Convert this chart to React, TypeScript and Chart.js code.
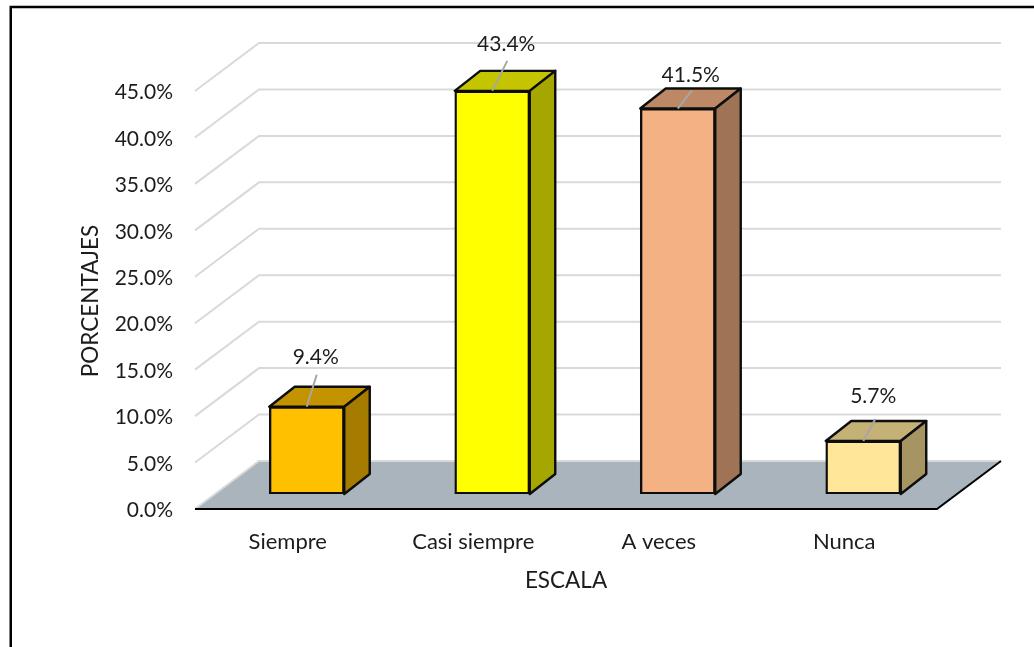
import { useEffect, useRef } from "react";
import { Chart, registerables } from "chart.js";

Chart.register(...registerables);

const categories = ["Siempre", "Casi siempre", "A veces", "Nunca"];
const percentages = [9.4, 43.4, 41.5, 5.7];
const frontColors = ["#FFC000", "#FFFF00", "#F4B183", "#FFE699"];
const topColors = ["#C49300", "#C4C400", "#BC8866", "#C4B176"];
const sideColors = ["#A67C00", "#A6A600", "#9F7355", "#A69563"];
const xAxisTitle = "ESCALA";
const yAxisTitle = "PORCENTAJES";

// Leader line end and label centre, relative to the middle of each bar's top edge.
const leaderEnds = [[10, -32], [15, -30], [14, -18], [12, -22]];
const labelOffsets = [[9, -49], [14, -47], [13, -33], [10, -45]];

const FONT = "Lato, Carlito, sans-serif";
const NUMBER_SIZE = 21;
const CATEGORY_SIZE = 22;
const TITLE_SIZE = 22.5;
const TEXT = "#1c1c1c";

// The bars stand on a plane between the front edge of the floor and the back wall.
const FRONT = { dx: -19, dy: 15 };
const BACK = { dx: 45, dy: -33 };
const BAR_DEPTH = { dx: 25.5, dy: -20 };

function poly(ctx: CanvasRenderingContext2D, pts: number[][], fill?: string, stroke?: string, width = 2.4) {
  ctx.beginPath();
  pts.forEach(([x, y], i) => (i ? ctx.lineTo(x, y) : ctx.moveTo(x, y)));
  ctx.closePath();
  if (fill) {
    ctx.fillStyle = fill;
    ctx.fill();
  }
  if (stroke) {
    ctx.strokeStyle = stroke;
    ctx.lineWidth = width;
    ctx.lineJoin = "round";
    ctx.stroke();
  }
}

function line(ctx: CanvasRenderingContext2D, pts: number[][], stroke: string, width: number) {
  ctx.beginPath();
  pts.forEach(([x, y], i) => (i ? ctx.lineTo(x, y) : ctx.moveTo(x, y)));
  ctx.strokeStyle = stroke;
  ctx.lineWidth = width;
  ctx.stroke();
}

const perspectivePlugin = {
  id: "perspective",
  beforeDraw(chart: any) {
    const { ctx, width, height } = chart;
    ctx.save();
    ctx.fillStyle = "#ffffff";
    ctx.fillRect(0, 0, width, height);
    // Chart frame, cut by the right and bottom edges of the page.
    line(ctx, [[10.75, height], [10.75, 7], [width, 7]], "#000000", 2.5);
    ctx.restore();
  },
  beforeDatasetsDraw(chart: any) {
    const { ctx, chartArea } = chart;
    const yScale = chart.scales.y;
    const { left, right } = chartArea;
    const y0 = yScale.getPixelForValue(0);
    ctx.save();

    // Floor of the plot.
    poly(ctx, [
      [left + FRONT.dx, y0 + FRONT.dy],
      [right + FRONT.dx, y0 + FRONT.dy],
      [right + BACK.dx, y0 + BACK.dy],
      [left + BACK.dx, y0 + BACK.dy],
    ], "#A9B4BC");

    // Gridlines: up the side wall, then along the back wall.
    yScale.ticks.forEach((t: any) => {
      const y = yScale.getPixelForValue(t.value);
      line(ctx, [
        [left + FRONT.dx, y + FRONT.dy],
        [left + BACK.dx, y + BACK.dy],
        [right + BACK.dx, y + BACK.dy],
      ], "#D9D9D9", 2);
    });

    // Dark front and right edges of the floor.
    line(ctx, [
      [left + FRONT.dx, y0 + FRONT.dy],
      [right + FRONT.dx, y0 + FRONT.dy],
      [right + BACK.dx, y0 + BACK.dy],
    ], "#000000", 2);

    // Top and side faces of each bar, drawn behind its front face.
    chart.getDatasetMeta(0).data.forEach((bar: any, i: number) => {
      const l = bar.x - bar.width / 2;
      const r = bar.x + bar.width / 2;
      const d = BAR_DEPTH;
      poly(ctx, [[l, bar.y], [r, bar.y], [r + d.dx, bar.y + d.dy], [l + d.dx, bar.y + d.dy]], topColors[i], "#0d0d0d");
      poly(ctx, [[r, bar.y], [r + d.dx, bar.y + d.dy], [r + d.dx, bar.base + d.dy], [r, bar.base]], sideColors[i], "#0d0d0d");
    });
    ctx.restore();
  },
  afterDatasetsDraw(chart: any) {
    const { ctx, chartArea } = chart;
    ctx.save();
    ctx.textAlign = "center";
    ctx.textBaseline = "middle";
    ctx.font = `${NUMBER_SIZE}px ${FONT}`;
    chart.getDatasetMeta(0).data.forEach((bar: any, i: number) => {
      const [ex, ey] = leaderEnds[i];
      line(ctx, [[bar.x, bar.y], [bar.x + ex, bar.y + ey]], "#A6A6A6", 2);
      const [lx, ly] = labelOffsets[i];
      ctx.fillStyle = TEXT;
      ctx.fillText(`${percentages[i].toFixed(1)}%`, bar.x + lx, bar.y + ly);
    });

    // Axis titles follow the front plane of the plot, not the bar plane.
    ctx.font = `${TITLE_SIZE}px ${FONT}`;
    ctx.fillStyle = TEXT;
    ctx.fillText(xAxisTitle, (chartArea.left + chartArea.right) / 2 + FRONT.dx, 581);
    ctx.translate(91, (chartArea.top + chartArea.bottom) / 2 + FRONT.dy + 1);
    ctx.rotate(-Math.PI / 2);
    ctx.fillText(yAxisTitle, 0, 0);
    ctx.restore();
  },
};

export default function App() {
  const ref = useRef<HTMLCanvasElement>(null);
  useEffect(() => {
    const chart = new Chart(ref.current!, {
      type: "bar",
      data: {
        labels: categories,
        datasets: [{
          data: percentages,
          backgroundColor: frontColors,
          borderColor: "#0d0d0d",
          borderWidth: 2.4,
          borderSkipped: false,
          barThickness: 75,
        }],
      },
      options: {
        responsive: false,
        animation: false,
        layout: { padding: { top: 76, right: 78, left: 80, bottom: 55 } },
        plugins: { legend: { display: false }, tooltip: { enabled: false } },
        scales: {
          x: {
            grid: { display: false, drawTicks: false },
            border: { display: false },
            ticks: {
              font: { family: FONT, size: CATEGORY_SIZE },
              color: TEXT,
              padding: 35,
              labelOffset: FRONT.dx,
              autoSkip: false,
              maxRotation: 0,
            },
            afterFit: (s: any) => { s.height = 98; },
          },
          y: {
            min: 0,
            max: 45,
            grid: { display: false, drawTicks: false },
            border: { display: false },
            ticks: {
              stepSize: 5,
              font: { family: FONT, size: NUMBER_SIZE },
              color: TEXT,
              padding: 41,
              labelOffset: FRONT.dy + 1.5,
              callback: (v: any) => `${Number(v).toFixed(1)}%`,
            },
            afterFit: (s: any) => { s.width = 134; },
          },
        },
      },
      plugins: [perspectivePlugin],
    });
    return () => chart.destroy();
  }, []);
  return (
    <div style={{ position: "fixed", left: 0, top: 0 }}>
      <canvas ref={ref} width={1034} height={647} style={{ display: "block" }} />
    </div>
  );
}
